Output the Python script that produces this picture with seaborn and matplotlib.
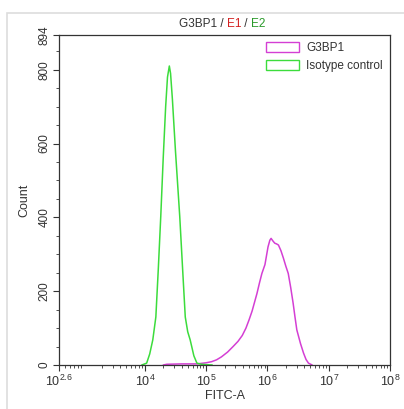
import numpy as np
import pandas as pd
import matplotlib
matplotlib.use('Agg')
import matplotlib.pyplot as plt
import seaborn as sns
from matplotlib.patches import Patch, Rectangle
from matplotlib.ticker import FixedLocator, MultipleLocator

# ---- data (log10 FITC-A, count) ----
iso_log = [3.95, 4.03, 4.08, 4.13, 4.18, 4.22, 4.26, 4.30, 4.34, 4.37, 4.40, 4.42,
           4.45, 4.50, 4.57, 4.62, 4.66, 4.70, 4.74, 4.80, 4.85, 4.92, 5.00, 5.10]
iso_count = [0, 5, 30, 68, 130, 260, 402, 560, 700, 780, 810, 790,
             720, 580, 402, 250, 130, 90, 68, 25, 5, 2, 1, 0]

g3_log = [4.30, 4.36, 4.60, 4.85, 5.00, 5.09, 5.17, 5.25, 5.35, 5.44, 5.52, 5.59,
          5.65, 5.70, 5.75, 5.79, 5.83, 5.87, 5.91, 5.96, 6.01, 6.04, 6.06, 6.09,
          6.12, 6.15, 6.18, 6.22, 6.26, 6.30, 6.34, 6.38, 6.42, 6.45, 6.48,
          6.54, 6.59, 6.63, 6.67, 6.73]
g3_count = [0, 2, 3, 3, 6, 9, 14, 22, 35, 50, 64, 80,
            100, 122, 146, 170, 194, 222, 248, 272, 320, 338, 343, 336,
            330, 328, 325, 310, 290, 268, 248, 210, 167, 130, 95,
            58, 32, 15, 5, 0]

labels = ['G3BP1', 'Isotype control']
colors = {'G3BP1': '#d43fd4', 'Isotype control': '#3cdc3c'}

df = pd.concat([
    pd.DataFrame({'fitc': np.power(10.0, g3_log), 'count': g3_count, 'sample': 'G3BP1'}),
    pd.DataFrame({'fitc': np.power(10.0, iso_log), 'count': iso_count, 'sample': 'Isotype control'}),
])

xticks = [10 ** 2.6, 1e4, 1e5, 1e6, 1e7, 1e8]
xticklabels = [r'$10^{2.6}$', r'$10^{4}$', r'$10^{5}$', r'$10^{6}$', r'$10^{7}$', r'$10^{8}$']
yticks = [0, 200, 400, 600, 800, 894]

sns.set_theme(style='white')
plt.rcParams['font.family'] = ['Liberation Sans', 'DejaVu Sans']
plt.rcParams['mathtext.fontset'] = 'custom'
plt.rcParams['mathtext.rm'] = 'Liberation Sans'
plt.rcParams['mathtext.it'] = 'Liberation Sans'

fig = plt.figure(figsize=(4.04, 4.09), dpi=100)
fig.patches.append(Rectangle((7 / 404, -0.1), 1.2, 1 - 13 / 409 + 0.1, transform=fig.transFigure,
                             fill=False, edgecolor='#dddddd', lw=1.2))
ax = fig.add_axes([59 / 404, 1 - 365 / 409, 331 / 404, 330 / 409])

sns.lineplot(data=df, x='fitc', y='count', hue='sample', palette=colors,
             estimator=None, sort=True, lw=1.1, ax=ax, legend=False)

ax.set_xscale('log')
ax.set_xlim(10 ** 2.6, 1e8)
ax.set_ylim(0, 894)
ax.xaxis.set_major_locator(FixedLocator(xticks))
ax.set_xticklabels(xticklabels, fontsize=9, color='#333333')
ax.set_yticks(yticks)
ax.set_yticklabels([str(v) for v in yticks], fontsize=8.5, rotation=90, va='center', color='#333333')
ax.yaxis.set_minor_locator(MultipleLocator(50))
ax.tick_params(axis='both', which='major', direction='out', length=4, width=0.8, color='#333333',
               bottom=True, left=True, pad=2)
ax.tick_params(axis='both', which='minor', direction='out', length=2, width=0.6, color='#333333',
               bottom=True, left=True)
for s in ax.spines.values():
    s.set_color('#333333')
    s.set_linewidth(0.9)

ax.set_xlabel('FITC-A', fontsize=9, color='#333333', labelpad=1)
ax.set_ylabel('Count', fontsize=9, color='#333333', labelpad=6)

handles = [Patch(facecolor='white', edgecolor=colors[l], lw=1, label=l) for l in labels]
ax.legend(handles=handles, loc='upper right', frameon=False, fontsize=8.5,
          handlelength=2.8, handleheight=0.9, handletextpad=0.6, borderaxespad=0.2,
          labelspacing=0.5, labelcolor='#333333')

# multi-colored title
parts = [('G3BP1 / ', '#333333'), ('E1', '#d42020'), (' / ', '#333333'), ('E2', '#2a9a2a')]
renderer = fig.canvas.get_renderer()
widths = []
texts = []
for s, c in parts:
    t = fig.text(0, 0, s, fontsize=8.5, color=c)
    widths.append(t.get_window_extent(renderer).width)
    texts.append(t)
x0 = 222 - sum(widths) / 2
for t, w in zip(texts, widths):
    t.set_position((x0 / 404, 1 - 27 / 409))
    x0 += w

fig.savefig('out.png', dpi=100)
